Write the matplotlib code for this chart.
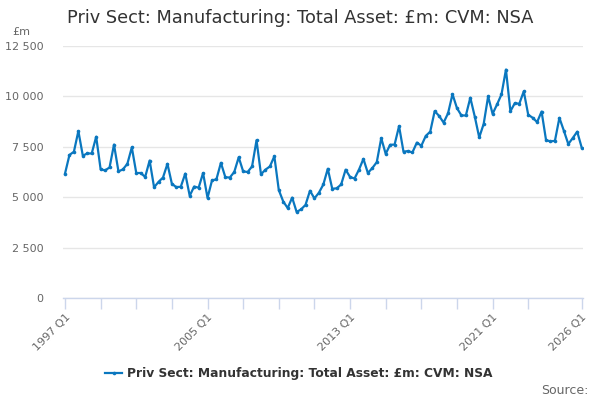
import matplotlib
matplotlib.use("Agg")
import matplotlib.pyplot as plt
from matplotlib.lines import Line2D

title = "Priv Sect: Manufacturing: Total Asset: £m: CVM: NSA"
series_name = "Priv Sect: Manufacturing: Total Asset: £m: CVM: NSA"

start_year = 1997
values = [
    6170, 7095, 7256, 8280,   # 1997
    7060, 7170, 7170, 8000,   # 1998
    6380, 6330, 6475, 7610,   # 1999
    6280, 6380, 6655, 7470,   # 2000
    6200, 6200, 6005, 6820,   # 2001
    5490, 5760, 5975, 6655,   # 2002
    5660, 5500, 5520, 6170,   # 2003
    5070, 5530, 5470, 6200,   # 2004
    4965, 5830, 5890, 6705,   # 2005
    5990, 5975, 6250, 6980,   # 2006
    6280, 6250, 6525, 7825,   # 2007
    6135, 6365, 6525, 7030,   # 2008
    5355, 4785, 4460, 4980,   # 2009
    4270, 4395, 4620, 5320,   # 2010
    4940, 5220, 5630, 6410,   # 2011
    5420, 5440, 5630, 6365,   # 2012
    6005, 5925, 6365, 6900,   # 2013
    6200, 6445, 6740, 7930,   # 2014
    7150, 7600, 7610, 8525,   # 2015
    7255, 7290, 7220, 7710,   # 2016
    7550, 8040, 8250, 9270,   # 2017
    9030, 8700, 9160, 10110,  # 2018
    9420, 9055, 9055, 9935,   # 2019
    9000, 7965, 8635, 10000,  # 2020
    9135, 9600, 10100, 11330, # 2021
    9265, 9665, 9635, 10250,  # 2022
    9090, 8940, 8725, 9250,   # 2023
    7835, 7765, 7800, 8935,   # 2024
    8300, 7635, 7935, 8250,   # 2025
    7465,                     # 2026
]
periods = [f"{start_year + i // 4} Q{i % 4 + 1}" for i in range(len(values))]

y_ticks = [0, 2500, 5000, 7500, 10000, 12500]
y_tick_labels = ["0", "2 500", "5 000", "7 500", "10 000", "12 500"]
x_labelled = ["1997 Q1", "2005 Q1", "2013 Q1", "2021 Q1", "2026 Q1"]

line_color = "#0a77bf"
text_color = "#666666"

fig = plt.figure(figsize=(6, 4), dpi=100)
ax = fig.add_axes([63 / 600, 1 - 298 / 400, 520 / 600, 252 / 400])

x = list(range(len(values)))
ax.plot(x, values, color=line_color, lw=1.6, marker="o", markersize=2.6,
        markeredgewidth=0, zorder=3)

ax.set_ylim(0, 12500)
ax.set_xlim(-0.45, len(values) - 1 + 0.3)
ax.set_yticks(y_ticks)
ax.set_yticklabels(y_tick_labels, color=text_color, fontsize=8)
ax.tick_params(axis="y", length=0, pad=14)
ax.grid(axis="y", color="#e6e6e6", lw=1)
ax.set_axisbelow(True)

# x ticks every 8 quarters plus last
tick_pos = list(range(0, len(values) - 8, 8)) + [len(values) - 1]
ax.set_xticks(tick_pos)
ax.set_xticklabels([periods[p] if periods[p] in x_labelled else "" for p in tick_pos],
                   rotation=45, ha="right", rotation_mode="anchor",
                   color=text_color, fontsize=8)
ax.tick_params(axis="x", length=8, color="#ccd6eb", width=1, pad=2)

for s in ["top", "right", "left"]:
    ax.spines[s].set_visible(False)
ax.spines["bottom"].set_color("#ccd6eb")
ax.spines["bottom"].set_linewidth(1)

fig.text(67 / 600, 1 - 18 / 400, title, fontsize=12.8, color="#333333",
         va="center", ha="left")
fig.text(12 / 600, 1 - 32 / 400, "£m", fontsize=8, color=text_color,
         va="center", ha="left")

handle = Line2D([], [], color=line_color, lw=1.6, marker="o", markersize=2.6,
                markeredgewidth=0)
fig.legend([handle], [series_name], loc="center", bbox_to_anchor=(299 / 600, 1 - 374 / 400),
           frameon=False, prop={"weight": "bold", "size": 8.8}, labelcolor="#333333",
           handlelength=1.4, handletextpad=0.4)

fig.text(588 / 600, 1 - 390 / 400, "Source:", fontsize=9, color=text_color,
         ha="right", va="center")

fig.savefig("out.png", dpi=100)
